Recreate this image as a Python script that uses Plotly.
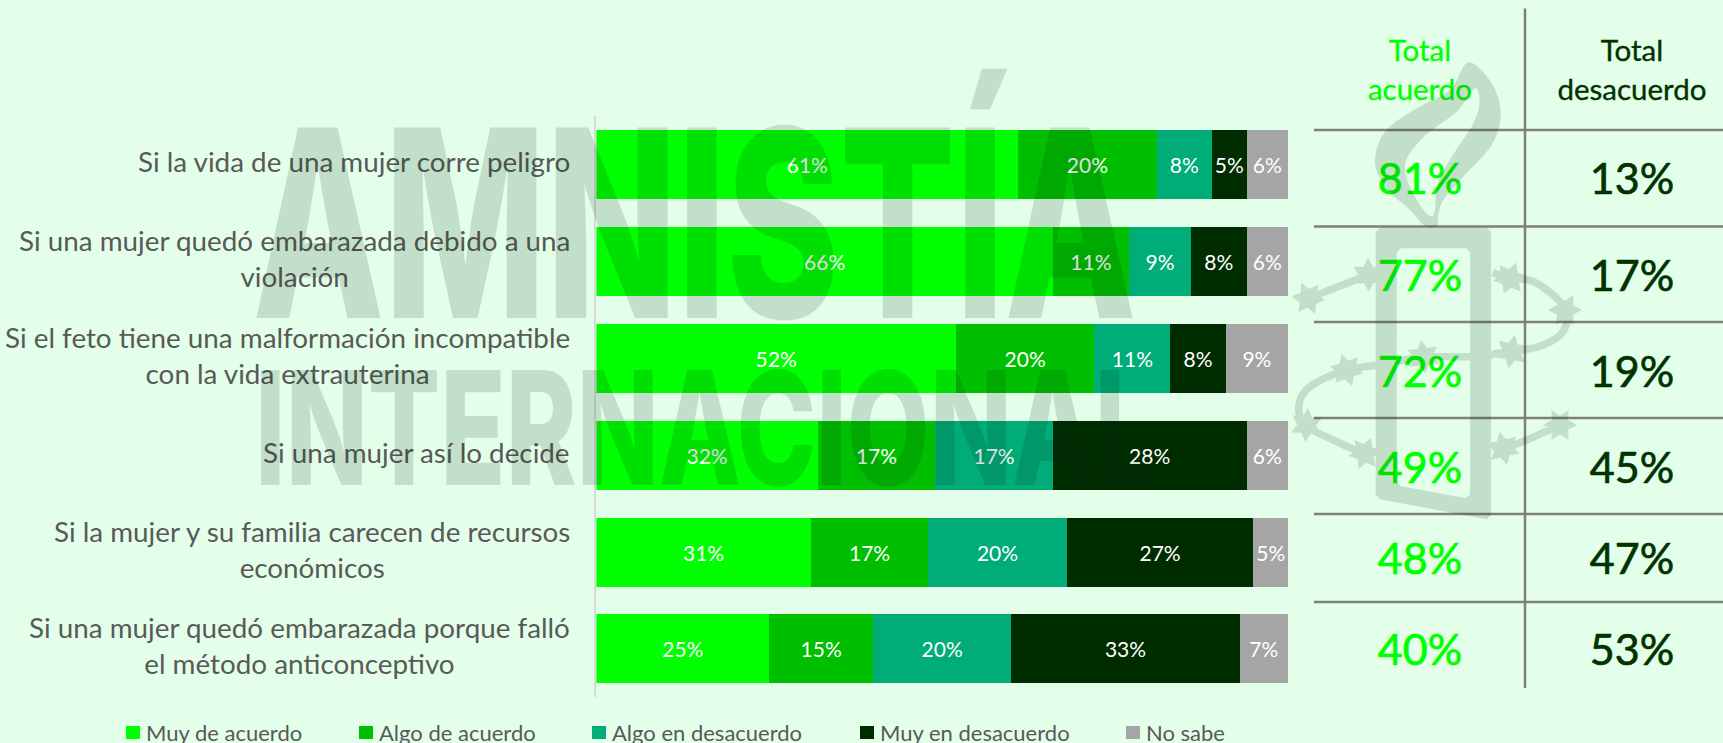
import math
import plotly.graph_objects as go

categories = ["Si la vida de una mujer corre peligro",
              "Si una mujer quedó embarazada debido a una<br>violación",
              "Si el feto tiene una malformación incompatible<br>con la vida extrauterina",
              "Si una mujer así lo decide",
              "Si la mujer y su familia carecen de recursos<br>económicos",
              "Si una mujer quedó embarazada porque falló<br>el método anticonceptivo"]
muy_de_acuerdo = [61, 66, 52, 32, 31, 25]
algo_de_acuerdo = [20, 11, 20, 17, 17, 15]
algo_en_desacuerdo = [8, 9, 11, 17, 20, 20]
muy_en_desacuerdo = [5, 8, 8, 28, 27, 33]
no_sabe = [6, 6, 9, 6, 5, 7]
total_acuerdo = [81, 77, 72, 49, 48, 40]
total_desacuerdo = [13, 17, 19, 45, 47, 53]

series_names = ["Muy de acuerdo", "Algo de acuerdo", "Algo en desacuerdo", "Muy en desacuerdo", "No sabe"]
series_values = [muy_de_acuerdo, algo_de_acuerdo, algo_en_desacuerdo, muy_en_desacuerdo, no_sabe]
series_colors = ["#00FF00", "#00BF00", "#00AC78", "#002D00", "#A5A5A5"]

W, H = 1723, 743
BG = "#E3FFE9"
GREY = "#595959"
DARK = "#003300"
LINE = "#7F7F7F"
INK = "rgba(0,35,15,0.145)"
FONT = "Lato"

fig = go.Figure()
for name, vals, col in zip(series_names, series_values, series_colors):
    fig.add_trace(go.Bar(
        y=categories, x=vals, name=name, orientation="h", marker=dict(color=col, line=dict(width=0)),
        text=[f"{v}%" for v in vals], textposition="inside", insidetextanchor="middle", textangle=0,
        constraintext="none", textfont=dict(color="white", size=21, family=FONT), showlegend=False,
        cliponaxis=False, hoverinfo="skip"))

# Table, written on an invisible full-page pixel axis pair
row_y = [183.5, 280.5, 376, 472, 563, 654]
table_font = dict(size=43, family=FONT)
fig.add_trace(go.Scatter(x=[1420] * 6, y=row_y, mode="text", text=[f"{v}%" for v in total_acuerdo],
                         textposition="middle center", textfont=dict(color="#00FF00", **table_font),
                         xaxis="x2", yaxis="y2", showlegend=False, hoverinfo="skip", cliponaxis=False))
fig.add_trace(go.Scatter(x=[1632] * 6, y=row_y, mode="text", text=[f"{v}%" for v in total_desacuerdo],
                         textposition="middle center", textfont=dict(color=DARK, **table_font),
                         xaxis="x2", yaxis="y2", showlegend=False, hoverinfo="skip", cliponaxis=False))
head_font = dict(size=29.5, family=FONT)
fig.add_trace(go.Scatter(x=[1420], y=[73], mode="text", text=["Total<br>acuerdo"], textposition="middle center",
                         textfont=dict(color="#00FF00", **head_font), xaxis="x2", yaxis="y2",
                         showlegend=False, hoverinfo="skip", cliponaxis=False))
fig.add_trace(go.Scatter(x=[1632], y=[73], mode="text", text=["Total<br>desacuerdo"], textposition="middle center",
                         textfont=dict(color=DARK, **head_font), xaxis="x2", yaxis="y2",
                         showlegend=False, hoverinfo="skip", cliponaxis=False))

shapes = []
for y in [130, 226.5, 322, 418, 514, 602]:
    shapes.append(dict(type="line", xref="x2", yref="y2", x0=1314, x1=1723, y0=y, y1=y,
                       line=dict(color=LINE, width=2.5), layer="above"))
shapes.append(dict(type="line", xref="x2", yref="y2", x0=1525, x1=1525, y0=8.5, y1=688,
                   line=dict(color=LINE, width=2.5), layer="above"))

# Legend
legend_x = [126, 359, 592, 860, 1126]
annotations = []
for name, col, lx in zip(series_names, series_colors, legend_x):
    shapes.append(dict(type="rect", xref="x2", yref="y2", x0=lx, x1=lx + 14, y0=726, y1=739,
                       fillcolor=col, line=dict(width=0), layer="above"))
    annotations.append(dict(xref="x2", yref="y2", x=lx + 18, y=732, text=name, showarrow=False, xanchor="left",
                            yanchor="middle", font=dict(size=22, family=FONT, color=GREY)))

# Row labels
for c in categories:
    annotations.append(dict(xref="paper", yref="y", x=572 / W, y=c, text=c, showarrow=False, xanchor="right",
                            align="center", yshift=3, font=dict(size=27.8, family=FONT, color=GREY)))


# Emblem watermark helpers
def catmull(pts, closed=False, n=8):
    out = []
    m = len(pts)
    rng = range(m) if closed else range(m - 1)
    for i in rng:
        if closed:
            p0, p1, p2, p3 = pts[i - 1], pts[i], pts[(i + 1) % m], pts[(i + 2) % m]
        else:
            p0, p1, p2, p3 = pts[max(i - 1, 0)], pts[i], pts[i + 1], pts[min(i + 2, m - 1)]
        for k in range(n):
            t = k / n
            out.append(tuple(0.5 * (2 * p1[d] + (p2[d] - p0[d]) * t + (2 * p0[d] - 5 * p1[d] + 4 * p2[d] - p3[d]) * t * t
                                    + (3 * p1[d] - p0[d] - 3 * p2[d] + p3[d]) * t ** 3) for d in (0, 1)))
    if not closed:
        out.append(pts[-1])
    return out


def area(p):
    return sum(p[i][0] * p[(i + 1) % len(p)][1] - p[(i + 1) % len(p)][0] * p[i][1] for i in range(len(p)))


def poly(p, hole=False):
    if (area(p) > 0) == hole:
        p = p[::-1]
    return "M" + " L".join(f"{x:.1f},{y:.1f}" for x, y in p) + " Z "


def ribbon(p, w):
    a, b = [], []
    for i, (x, y) in enumerate(p):
        x0, y0 = p[max(i - 1, 0)]
        x1, y1 = p[min(i + 1, len(p) - 1)]
        dx, dy = x1 - x0, y1 - y0
        L = math.hypot(dx, dy) or 1
        a.append((x - dy / L * w / 2, y + dx / L * w / 2))
        b.append((x + dy / L * w / 2, y - dx / L * w / 2))
    return a + b[::-1]


def star(cx, cy, R=17, r=9.5, n=6, rot=0.3):
    return [(cx + (R if k % 2 == 0 else r) * math.cos(rot + k * math.pi / n),
             cy + (R if k % 2 == 0 else r) * math.sin(rot + k * math.pi / n)) for k in range(2 * n)]


def z4(p):
    return [(1360 + x / 3, 50 + y / 3) for x, y in p]


def z5(p):
    return [(1280 + x / 3, 240 + y / 3) for x, y in p]


flame_outer = z4([(325, 37), (395, 100), (422, 190), (395, 285), (310, 380), (250, 450), (234, 500), (232, 528),
                  (195, 528), (150, 480), (85, 420), (45, 340), (75, 245), (170, 175), (270, 120)])
flame_hole = z4([(218, 498), (165, 440), (135, 345), (190, 262), (290, 185), (345, 115), (358, 165), (335, 230),
                 (285, 305), (235, 395)])
path = poly(catmull(flame_outer, True)) + poly(catmull(flame_hole, True), hole=True)
path += poly(z5([(300, -37), (620, -37), (633, -25), (633, 825), (620, 838), (300, 778), (287, 765), (287, -25)]))
path += poly(z5([(362, 25), (558, 25), (570, 37), (570, 763), (558, 775), (362, 738), (350, 725), (350, 37)]), hole=True)
wires = [[(85, 175), (265, 105), (295, 98)],
         [(638, 98), (690, 115), (760, 125), (830, 175), (862, 225), (845, 280), (790, 315), (730, 330), (695, 335), (638, 342)],
         [(638, 345), (570, 350), (430, 352), (290, 375), (200, 390), (105, 430), (60, 480), (70, 550), (160, 600), (255, 640), (295, 632)],
         [(638, 618), (670, 625), (740, 600), (840, 555)]]
for w in wires:
    path += poly(ribbon(catmull(z5(w)), 7.5))
for cx, cy, rot in [(85, 175, 0.1), (265, 105, 0.5), (690, 115, 0.9), (855, 210, 0.0), (695, 335, 0.7),
                    (430, 350, 0.4), (200, 390, 0.2), (80, 555, 0.6), (255, 640, 0.9), (670, 625, 0.3), (840, 555, 0.0)]:
    x, y = z5([(cx, cy)])[0]
    path += poly(star(x, y, rot=rot))
shapes.append(dict(type="path", xref="x2", yref="y2", path=path, fillcolor=INK, fillrule="nonzero",
                   line=dict(width=0), layer="above"))

# Word watermark, always the last annotations so it lies over everything else
annotations.append(dict(xref="x2", yref="y2", x=694, y=222, text="AMNISTÍA", showarrow=False, xanchor="center",
                        yanchor="middle", font=dict(size=262, family="Inter", color=INK, weight=800)))
annotations.append(dict(xref="x2", yref="y2", x=705, y=427.5, text="INTERNACIONAL", showarrow=False, xanchor="center",
                        yanchor="middle", font=dict(size=158, family="Inter", color=INK, weight=800)))

fig.update_layout(
    width=W, height=H, autosize=False, margin=dict(l=0, r=0, t=0, b=0, pad=0), paper_bgcolor=BG, plot_bgcolor="rgba(0,0,0,0)",
    barmode="stack", bargap=0.288, showlegend=False, shapes=shapes, annotations=annotations,
    xaxis=dict(domain=[596.4 / W, 1288 / W], range=[0, 100], visible=False, fixedrange=True),
    yaxis=dict(domain=[1 - 697.4 / H, 1 - 116 / H], categoryorder="array", categoryarray=categories, autorange="reversed",
               showticklabels=False, ticks="", showline=True, linecolor="#D5DAD6", linewidth=2, showgrid=False, fixedrange=True),
    xaxis2=dict(domain=[0, 1], range=[0, W], visible=False, anchor="y2", fixedrange=True),
    yaxis2=dict(domain=[0, 1], range=[H, 0], visible=False, anchor="x2", fixedrange=True),
)

post = """
document.documentElement.style.overflow='hidden';
document.documentElement.style.background='%s';
document.body.style.margin='0';
document.querySelectorAll('.annotation-text').forEach(function(t){
  var s=t.textContent;
  if(s.indexOf('AMNIST')===0){t.setAttribute('textLength','884');t.setAttribute('lengthAdjust','spacingAndGlyphs');}
  if(s.indexOf('INTERNACIONAL')===0){t.setAttribute('textLength','900');t.setAttribute('lengthAdjust','spacingAndGlyphs');}
});
document.querySelectorAll('.textpoint text').forEach(function(t){
  var big=parseFloat(t.style.fontSize)>35;
  t.style.stroke=t.style.fill; t.style.strokeWidth=big?'0.7px':'0.35px';
});
""" % BG
fig.write_html("out.html", post_script=post, config=dict(displayModeBar=False))
